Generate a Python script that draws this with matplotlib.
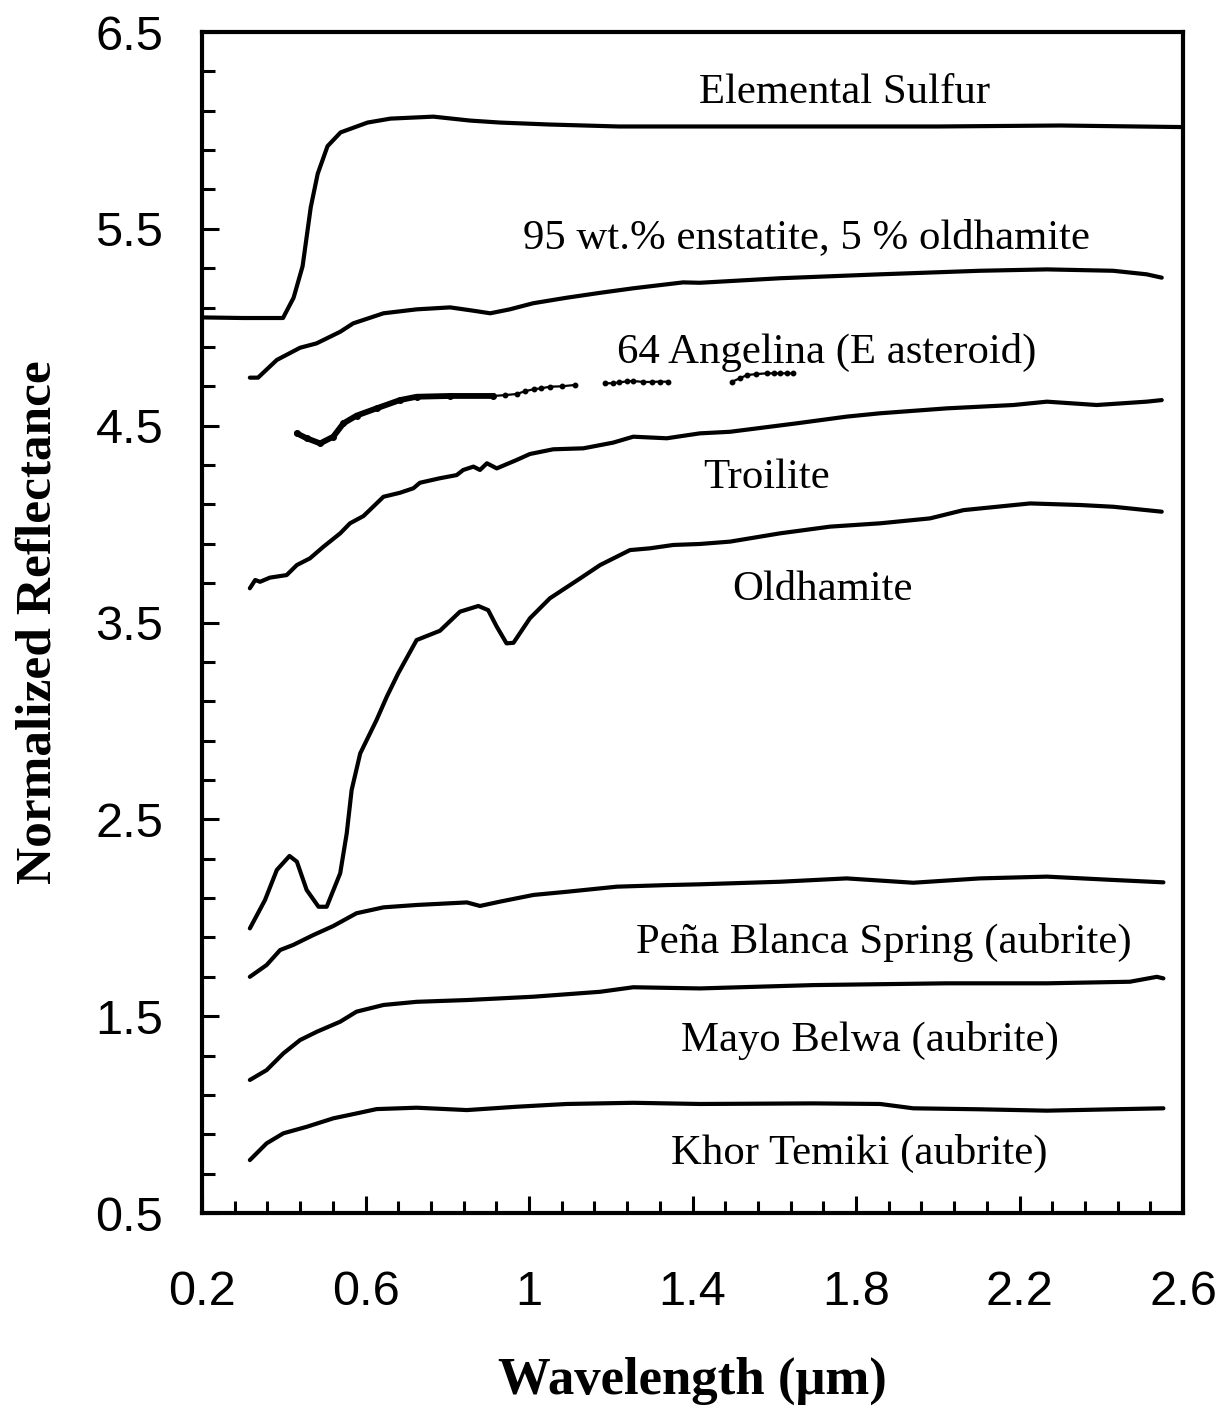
import matplotlib
matplotlib.use("Agg")
import matplotlib.pyplot as plt
from matplotlib.ticker import FixedLocator, FixedFormatter
import numpy as np

# spectra (wavelength in um, offset reflectance)
sulfur_x = [0.20, 0.30, 0.398, 0.424, 0.446, 0.466, 0.483, 0.507, 0.539, 0.605,
            0.661, 0.766, 0.856, 0.929, 1.05, 1.22, 1.6, 2.0, 2.3, 2.6]
sulfur_y = [5.05, 5.047, 5.047, 5.15, 5.31, 5.61, 5.78, 5.92, 5.99, 6.04,
            6.06, 6.07, 6.05, 6.04, 6.03, 6.02, 6.02, 6.02, 6.025, 6.017]

enst_x = [0.317, 0.337, 0.383, 0.44, 0.48, 0.538, 0.57, 0.644, 0.725, 0.807,
          0.864, 0.905, 0.953, 1.01, 1.092, 1.174, 1.255, 1.377, 1.418, 1.614,
          1.859, 2.103, 2.267, 2.429, 2.511, 2.548]
enst_y = [4.744, 4.744, 4.834, 4.896, 4.918, 4.977, 5.02, 5.071, 5.091, 5.101,
          5.084, 5.071, 5.091, 5.122, 5.15, 5.175, 5.198, 5.228, 5.226, 5.249,
          5.269, 5.287, 5.294, 5.287, 5.269, 5.252]

# 64 Angelina: dense part, then sparse points with two gaps (nan breaks)
ang_x = [0.432, 0.456, 0.489, 0.521, 0.546, 0.578, 0.627, 0.684, 0.725, 0.807,
         0.913]
ang_y = [4.461, 4.436, 4.41, 4.444, 4.512, 4.551, 4.588, 4.63, 4.647, 4.651,
         4.651]
ang_sparse_x = [0.913, 0.94, 0.97, 0.99, 1.011, 1.03, 1.051, 1.08, 1.113, np.nan,
                1.186, 1.205, 1.22, 1.24, 1.255, 1.28, 1.30, 1.32, 1.341, np.nan,
                1.496, 1.515, 1.533, 1.555, 1.582, 1.60, 1.615, 1.63, 1.647]
ang_sparse_y = [4.651, 4.655, 4.661, 4.675, 4.685, 4.69, 4.698, 4.70, 4.707, np.nan,
                4.715, 4.716, 4.72, 4.725, 4.727, 4.722, 4.722, 4.724, 4.723, np.nan,
                4.723, 4.74, 4.757, 4.762, 4.766, 4.766, 4.766, 4.766, 4.766]

troil_x = [0.317, 0.33, 0.342, 0.366, 0.407, 0.432, 0.464, 0.497, 0.538, 0.562,
           0.595, 0.644, 0.684, 0.717, 0.733, 0.782, 0.823, 0.839, 0.864, 0.88,
           0.897, 0.921, 0.97, 1.002, 1.059, 1.133, 1.206, 1.255, 1.337, 1.418,
           1.492, 1.655, 1.777, 1.859, 2.022, 2.185, 2.267, 2.389, 2.511, 2.548]
troil_y = [3.674, 3.716, 3.707, 3.728, 3.741, 3.792, 3.826, 3.885, 3.953, 4.004,
           4.041, 4.139, 4.159, 4.182, 4.21, 4.233, 4.249, 4.275, 4.292, 4.275,
           4.309, 4.283, 4.326, 4.356, 4.38, 4.385, 4.414, 4.444, 4.436, 4.461,
           4.469, 4.512, 4.546, 4.563, 4.588, 4.605, 4.622, 4.605, 4.622, 4.63]

oldh_x = [0.317, 0.354, 0.383, 0.414, 0.432, 0.456, 0.485, 0.505, 0.538, 0.554,
          0.566, 0.587, 0.627, 0.652, 0.68, 0.725, 0.782, 0.831, 0.876, 0.90,
          0.921, 0.945, 0.962, 1.002, 1.051, 1.125, 1.174, 1.247, 1.296, 1.353,
          1.418, 1.492, 1.614, 1.736, 1.859, 1.981, 2.063, 2.226, 2.348, 2.43, 2.548]
oldh_y = [1.946, 2.09, 2.243, 2.314, 2.285, 2.141, 2.056, 2.056, 2.226, 2.429,
          2.649, 2.835, 3.005, 3.123, 3.242, 3.411, 3.458, 3.555, 3.584, 3.563,
          3.479, 3.394, 3.397, 3.521, 3.623, 3.724, 3.792, 3.868, 3.877, 3.894,
          3.899, 3.911, 3.953, 3.987, 4.004, 4.029, 4.071, 4.105, 4.097, 4.088, 4.063]

pena_x = [0.317, 0.358, 0.391, 0.423, 0.472, 0.521, 0.578, 0.644, 0.725, 0.848,
          0.88, 0.929, 1.011, 1.092, 1.215, 1.337, 1.418, 1.614, 1.777, 1.94,
          2.103, 2.267, 2.43, 2.552]
pena_y = [1.70, 1.76, 1.836, 1.862, 1.912, 1.958, 2.023, 2.053, 2.065, 2.078,
          2.06, 2.082, 2.116, 2.132, 2.158, 2.166, 2.17, 2.183, 2.20, 2.178,
          2.20, 2.209, 2.192, 2.18]

mayo_x = [0.317, 0.358, 0.399, 0.44, 0.481, 0.538, 0.578, 0.644, 0.725, 0.848,
          1.011, 1.174, 1.255, 1.418, 1.696, 2.022, 2.267, 2.47, 2.536, 2.552]
mayo_y = [1.176, 1.226, 1.311, 1.379, 1.421, 1.472, 1.523, 1.557, 1.573, 1.582,
          1.599, 1.624, 1.647, 1.641, 1.658, 1.667, 1.667, 1.675, 1.70, 1.692]

khor_x = [0.317, 0.358, 0.399, 0.456, 0.521, 0.578, 0.627, 0.725, 0.848, 0.97,
          1.092, 1.255, 1.418, 1.696, 1.859, 1.94, 2.103, 2.267, 2.43, 2.552]
khor_y = [0.769, 0.854, 0.905, 0.938, 0.981, 1.006, 1.028, 1.035, 1.023, 1.04,
          1.054, 1.06, 1.054, 1.057, 1.054, 1.032, 1.027, 1.02, 1.027, 1.032]

labels = ["Elemental Sulfur", "95 wt.% enstatite, 5 % oldhamite",
          "64 Angelina (E asteroid)", "Troilite", "Oldhamite",
          "Peña Blanca Spring (aubrite)", "Mayo Belwa (aubrite)",
          "Khor Temiki (aubrite)"]
label_x = [1.773, 1.68, 1.729, 1.58, 1.717, 1.868, 1.834, 1.807]
label_y = [6.19, 5.453, 4.874, 4.234, 3.665, 1.872, 1.379, 0.805]

xticks = [0.2, 0.6, 1.0, 1.4, 1.8, 2.2, 2.6]
xtick_labels = ["0.2", "0.6", "1", "1.4", "1.8", "2.2", "2.6"]
yticks = [0.5, 1.5, 2.5, 3.5, 4.5, 5.5, 6.5]
ytick_labels = ["0.5", "1.5", "2.5", "3.5", "4.5", "5.5", "6.5"]

fig = plt.figure(figsize=(12.23, 14.10), dpi=100)
ax = fig.add_axes([0.1652, 0.1397, 0.8021, 0.8376])

lw = 3.0
for xs, ys in [(sulfur_x, sulfur_y), (enst_x, enst_y), (troil_x, troil_y),
               (oldh_x, oldh_y), (pena_x, pena_y), (mayo_x, mayo_y),
               (khor_x, khor_y)]:
    ax.plot(xs, ys, color="black", lw=lw, solid_capstyle="round")
ax.plot(ang_x, ang_y, color="black", lw=4.2, marker="o", ms=4,
        solid_capstyle="round")
ax.plot(ang_sparse_x, ang_sparse_y, color="black", lw=1.6, marker="o", ms=3.2)

serif = ["Liberation Serif", "DejaVu Serif"]
for txt, lx, ly in zip(labels, label_x, label_y):
    ax.text(lx, ly, txt, ha="center", va="center", fontsize=30.8, family=serif)

ax.set_xlim(0.2, 2.6)
ax.set_ylim(0.5, 6.5)

ax.xaxis.set_major_locator(FixedLocator(xticks))
ax.xaxis.set_major_formatter(FixedFormatter(xtick_labels))
ax.xaxis.set_minor_locator(FixedLocator(np.arange(0.28, 2.6, 0.08)))
ax.yaxis.set_major_locator(FixedLocator(yticks))
ax.yaxis.set_major_formatter(FixedFormatter(ytick_labels))
ax.yaxis.set_minor_locator(FixedLocator(np.arange(0.7, 6.5, 0.2)))

for side in ["left", "right", "top", "bottom"]:
    ax.spines[side].set_linewidth(3)

ax.tick_params(which="both", direction="in", width=2.2, top=False, right=False)
ax.tick_params(which="major", length=12)
ax.tick_params(which="minor", length=9)
ax.tick_params(axis="x", which="major", pad=41)
ax.tick_params(axis="y", which="major", pad=28)
for lab in ax.get_xticklabels() + ax.get_yticklabels():
    lab.set_family(["Liberation Sans", "DejaVu Sans"])
    lab.set_fontsize(35)

ax.set_xlabel("Wavelength (\u03bcm)", fontsize=38, fontweight="bold",
              family=serif, labelpad=30)
ax.set_ylabel("Normalized Reflectance", fontsize=37, fontweight="bold",
              family=serif, labelpad=24)

fig.savefig("out.png", dpi=100)
